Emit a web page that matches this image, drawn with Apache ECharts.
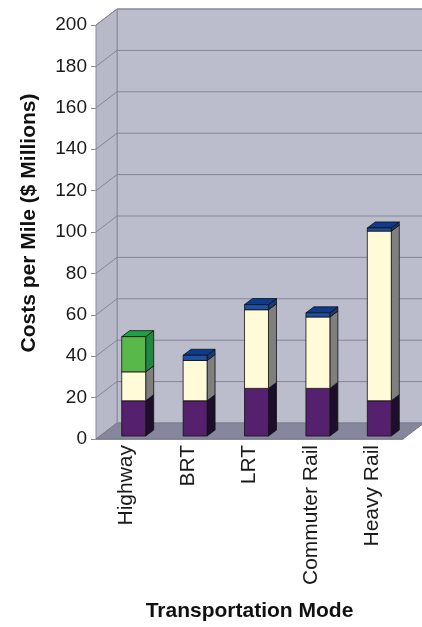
<!DOCTYPE html>
<html>
<head>
<meta charset="utf-8">
<script src="https://cdn.jsdelivr.net/npm/echarts@6/dist/echarts.min.js"></script>
<style>
  html, body { margin: 0; padding: 0; background: #fff; }
  #chart { width: 422px; height: 627px; }
</style>
</head>
<body>
<div id="chart"></div>
<script>
// data ($ millions per mile)
const categories = ["Highway", "BRT", "LRT", "Commuter Rail", "Heavy Rail"];
const baseCost = [17, 17, 23, 23, 17];       // purple
const middleCost = [14, 19.5, 38, 34.5, 82]; // cream
const roadCost = [17, 0, 0, 0, 0];           // green
const vehicleCost = [0, 2.5, 2.5, 2, 1.5];   // blue
const yTicks = [0, 20, 40, 60, 80, 100, 120, 140, 160, 180, 200];

const font = "'Liberation Sans', Arial, sans-serif";
const DX = 21, DY = -16; // depth of the walls
const BX = 8, BY = -6;   // depth of a bar
const OX = 7, OY = -3;   // bar front offset from the axis plane

const chart = echarts.init(document.getElementById("chart"));

function drawWalls(params, api) {
  const bw = api.size([1, 0])[0];
  const a = api.coord([0, yTicks[0]]);
  const b = api.coord([categories.length - 1, yTicks[yTicks.length - 1]]);
  const x0 = a[0] - bw / 2, x1 = b[0] + bw / 2, y0 = a[1], y1 = b[1];
  const children = [
    { type: "rect", shape: { x: x0 + DX, y: y1 + DY, width: x1 - x0, height: y0 - y1 },
      style: { fill: "#bbbdcc", stroke: "#8a8a9c", lineWidth: 1 } },
    { type: "polygon", shape: { points: [[x0, y0], [x0, y1], [x0 + DX, y1 + DY], [x0 + DX, y0 + DY]] },
      style: { fill: "#b7b9c9", stroke: "#8a8a9c", lineWidth: 1 } },
    { type: "polygon", shape: { points: [[x0, y0], [x1, y0], [x1 + DX, y0 + DY], [x0 + DX, y0 + DY]] },
      style: { fill: "#86869c", stroke: "#7a7a90", lineWidth: 1 } }
  ];
  yTicks.slice(1).forEach(v => {
    const y = api.coord([0, v])[1];
    children.push({ type: "line", shape: { x1: x0, y1: y, x2: x0 + DX, y2: y + DY },
      style: { stroke: "#85859a", lineWidth: 1 } });
    children.push({ type: "line", shape: { x1: x0 + DX, y1: y + DY, x2: x1 + DX, y2: y + DY },
      style: { stroke: "#85859a", lineWidth: 1 } });
  });
  return { type: "group", children };
}

function layer(name, values, below, colors, z) {
  const data = values.map((v, i) => {
    const base = below.reduce((s, arr) => s + arr[i], 0);
    return [i, base, base + v];
  });
  return {
    type: "custom",
    name,
    data,
    z,
    encode: { x: 0, y: [1, 2] },
    renderItem(params, api) {
      const i = api.value(0), lo = api.value(1), hi = api.value(2);
      if (hi <= lo) return null;
      const bw = api.size([1, 0])[0] * 0.39;
      const p = api.coord([i, lo]), q = api.coord([i, hi]);
      const L = p[0] - bw / 2 + OX, R = L + bw;
      const yb = p[1] + OY, yt = q[1] + OY;
      const edge = { stroke: "#111", lineWidth: 0.8 };
      return {
        type: "group",
        children: [
          { type: "polygon", shape: { points: [[R, yb], [R + BX, yb + BY], [R + BX, yt + BY], [R, yt]] },
            style: Object.assign({ fill: colors[1] }, edge) },
          { type: "polygon", shape: { points: [[L, yt], [R, yt], [R + BX, yt + BY], [L + BX, yt + BY]] },
            style: Object.assign({ fill: colors[2] }, edge) },
          { type: "rect", shape: { x: L, y: yt, width: bw, height: yb - yt },
            style: Object.assign({ fill: colors[0] }, edge) }
        ]
      };
    }
  };
}

const option = {
  animation: false,
  grid: { left: 96, top: 25, width: 307, height: 416 },
  xAxis: {
    type: "category",
    data: categories,
    name: "Transportation Mode",
    nameLocation: "middle",
    nameGap: 162,
    nameTextStyle: { fontFamily: font, fontSize: 21, fontWeight: "bold", color: "#111" },
    axisLine: { lineStyle: { color: "#9a9aa8" } },
    axisTick: { length: 5, lineStyle: { color: "#9a9aa8" } },
    axisLabel: { rotate: 90, margin: 6, fontFamily: font, fontSize: 21, color: "#1a1a1a", interval: 0 }
  },
  yAxis: {
    type: "value",
    min: yTicks[0],
    max: yTicks[yTicks.length - 1],
    interval: 20,
    name: "Costs per Mile ($ Millions)",
    nameLocation: "middle",
    nameGap: 56,
    nameTextStyle: { fontFamily: font, fontSize: 21, fontWeight: "bold", color: "#111", padding: [0, 0, 0, 18] },
    axisLine: { show: true, lineStyle: { color: "#8a8a9c" } },
    axisTick: { show: true, length: 5, lineStyle: { color: "#8a8a9c" } },
    splitLine: { show: false },
    axisLabel: { margin: 9, fontFamily: font, fontSize: 19, color: "#1a1a1a" }
  },
  series: [
    { type: "custom", name: "walls", data: [[0, 0]], z: 1, silent: true, renderItem: drawWalls },
    layer("Base", baseCost, [], ["#55206d", "#1d0f2c", "#3b1650"], 3),
    layer("Middle", middleCost, [baseCost], ["#fffad8", "#7f7f7f", "#d9d5b5"], 4),
    layer("Road", roadCost, [baseCost, middleCost], ["#58b94a", "#1e8a3d", "#20a043"], 5),
    layer("Vehicles", vehicleCost, [baseCost, middleCost, roadCost], ["#1f50a2", "#17387a", "#0e3b8c"], 6)
  ]
};

chart.setOption(option);
</script>
</body>
</html>
